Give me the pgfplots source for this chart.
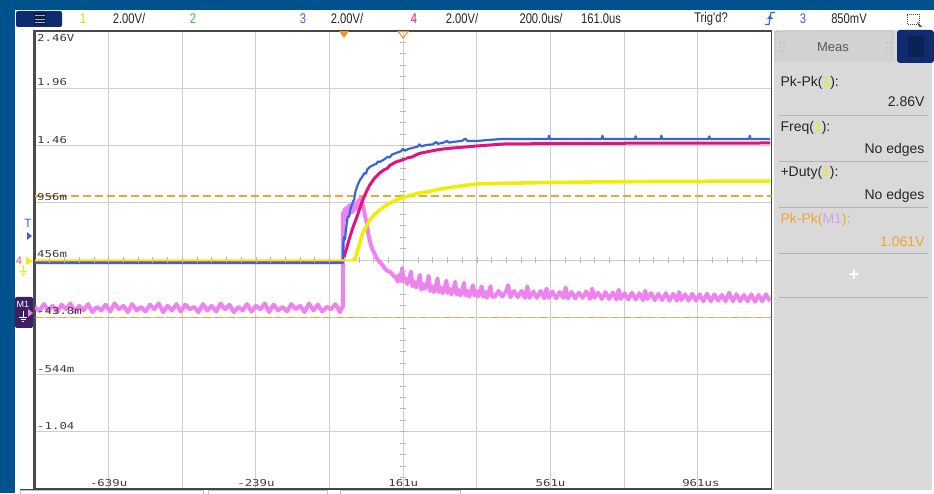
\documentclass[border=0pt]{standalone}
\usepackage{fontspec}
\setmainfont{Liberation Sans}
\newfontfamily\scopefont[FakeStretch=0.8]{Liberation Sans}
\newfontfamily\gridfont[FakeStretch=1.3]{DejaVu Sans Mono}
\usepackage{pgfplots}
\pgfplotsset{compat=1.18}
\definecolor{frameblue}{RGB}{0,82,140}
\definecolor{panelgray}{RGB}{217,217,217}
\definecolor{tabgray}{RGB}{210,210,210}
\definecolor{gridgray}{RGB}{205,205,205}
\definecolor{btnblue}{RGB}{16,44,112}
\definecolor{chone}{RGB}{238,238,0}
\definecolor{chtwo}{RGB}{60,190,60}
\definecolor{chthree}{RGB}{55,100,225}
\definecolor{chfour}{RGB}{225,20,125}
\definecolor{mone}{RGB}{238,130,238}
\definecolor{mlabel}{RGB}{210,160,240}
\definecolor{cursororange}{RGB}{240,165,50}
\definecolor{trigorange}{RGB}{240,150,30}
\definecolor{mbox}{RGB}{60,32,96}
\definecolor{labgray}{RGB}{60,60,60}
\begin{document}
\begin{tikzpicture}[x=1pt,y=1pt]
\path[use as bounding box] (0,0) rectangle (934,493);
% frame and backgrounds
\fill[frameblue] (0,0) rectangle (934,493);
\fill[white] (15,0) rectangle (934,483);
\fill[panelgray] (774,3) rectangle (932,463);
% bottom strip boxes
\draw[gray!50] (20,-1) rectangle (203,2.5);
\draw[gray!50] (208,-1) rectangle (327,2.5);
\draw[gray!50] (340,-1) rectangle (460,2.5);

\begin{axis}[
  at={(35pt,4pt)}, anchor=south west,
  width=736.5pt, height=458pt, scale only axis,
  xmin=-839, xmax=1161, ymin=-1.54, ymax=2.46,
  xtick={-639,-439,-239,-39,161,361,561,761,961},
  ytick={-1.04,-0.54,-0.04,0.46,0.96,1.46,1.96},
  xticklabels={}, yticklabels={},
  major tick length=0pt,
  grid=major,
  major grid style={draw=gridgray, line width=1pt},
  axis line style={draw=black!72, line width=1.5pt},
  clip=true,
]
% measurement cursors
\draw[cursororange, line width=1.5pt, dash pattern=on 8pt off 4pt] (axis cs:-839,1.02) -- (axis cs:1161,1.02);
\draw[cursororange, line width=1.5pt, dash pattern=on 8pt off 4pt] (axis cs:-839,-0.04) -- (axis cs:1161,-0.04);

% M1 (math) trace
\addplot[mone, line width=4pt, line join=round] coordinates {
(-839,0.05) (-827,0.015) (-815,0.075) (-803,0.02) (-791,0.06) (-779,0.005) (-767,0.07) (-755,0.03)
(-743,0.08) (-731,0.01) (-719,0.06) (-707,0.02) (-695,0.075) (-683,0.005) (-671,0.05) (-659,0.02)
(-647,0.07) (-635,0.01) (-623,0.08) (-611,0.03) (-599,0.06) (-587,0.005) (-575,0.075) (-563,0.02)
(-551,0.05) (-539,0.01) (-527,0.07) (-515,0.03) (-503,0.08) (-491,0.005) (-479,0.06) (-467,0.02)
(-455,0.075) (-443,0.01) (-431,0.07) (-419,0.03) (-407,0.05) (-395,0.005) (-383,0.075) (-371,0.02)
(-359,0.06) (-347,0.01) (-335,0.08) (-323,0.03) (-311,0.07) (-299,0.005) (-287,0.05) (-275,0.02)
(-263,0.075) (-251,0.01) (-239,0.06) (-227,0.03) (-215,0.08) (-203,0.005) (-191,0.07) (-179,0.02)
(-167,0.05) (-155,0.01) (-143,0.075) (-131,0.03) (-119,0.06) (-107,0.005) (-95,0.08) (-83,0.02)
(-71,0.07) (-59,0.01) (-47,0.05) (-35,0.03) (-23,0.075) (-11,0.005) (-4,0.05) (-3,0.05)
(-2,0.88) (1,0.80) (3,0.91) (6,0.85) (9,0.92) (12,0.86) (15,0.94) (18,0.87) (21,0.93) (24,0.88)
(27,0.95) (30,0.90) (33,0.96) (36,0.91) (39,0.98) (42,0.95) (45,1.00) (48,0.97) (51,0.94)
(55,0.88) (59,0.82) (62,0.78) (66,0.69) (70,0.63) (74,0.58) (78,0.55) (84,0.51) (90,0.47)
(97,0.44) (104,0.42) (110,0.39) (116,0.37) (122,0.36) (128,0.35) (135,0.32) (141,0.31)
(146,0.27) (150,0.33) (154,0.28) (158,0.39) (162,0.27) (167,0.30) (172,0.25) (177,0.29)
(182,0.36) (186,0.23) (191,0.27) (196,0.22) (201,0.26) (206,0.33) (210,0.20) (215,0.25)
(220,0.21) (225,0.24) (230,0.32) (234,0.19) (239,0.23) (244,0.18) (249,0.22) (254,0.30)
(258,0.18) (263,0.22) (268,0.17) (273,0.21) (278,0.28) (282,0.17) (287,0.21) (292,0.16)
(297,0.20) (302,0.27) (306,0.16) (311,0.20) (316,0.15) (321,0.19) (326,0.26) (330,0.15)
(335,0.19) (340,0.14) (345,0.18) (350,0.24) (354,0.15) (359,0.19) (364,0.14) (369,0.18)
(374,0.23) (378,0.14) (383,0.18) (388,0.13) (393,0.18) (398,0.23) (402,0.14)
(410,0.14) (420,0.19) (430,0.14) (440,0.185) (446,0.24) (452,0.135) (462,0.19) (472,0.135)
(482,0.19) (492,0.13) (498,0.23) (504,0.13) (514,0.185) (524,0.13) (534,0.19) (544,0.125)
(550,0.21) (556,0.13) (566,0.185) (576,0.125) (586,0.18) (596,0.13) (602,0.22) (608,0.125)
(618,0.18) (628,0.125) (638,0.175) (648,0.13) (658,0.185) (668,0.12) (674,0.21) (680,0.13)
(690,0.175) (700,0.12) (710,0.18) (720,0.12) (730,0.175) (740,0.115) (746,0.20) (752,0.12)
(762,0.17) (772,0.115) (782,0.175) (792,0.115) (802,0.17) (812,0.11) (818,0.19) (824,0.12)
(834,0.17) (844,0.11) (854,0.165) (864,0.11) (874,0.17) (884,0.105) (894,0.165) (904,0.105)
(910,0.18) (916,0.11) (926,0.16) (936,0.105) (946,0.165) (956,0.105) (966,0.16) (976,0.10)
(986,0.165) (996,0.10) (1006,0.16) (1016,0.105) (1026,0.155) (1036,0.10) (1046,0.175) (1056,0.10)
(1066,0.16) (1076,0.10) (1086,0.155) (1096,0.10) (1106,0.16) (1116,0.095) (1126,0.155)
(1136,0.10) (1146,0.16) (1157,0.10)
};

% channel 4 (magenta)
\addplot[chfour, line width=3pt, line join=round] coordinates {
(-839,0.442) (-3,0.442) (0,0.486) (8,0.57) (16,0.661) (25,0.75) (35,0.835) (43,0.91) (51,0.984)
(60,1.05) (70,1.115) (82,1.17) (97,1.220) (110,1.25) (118,1.26) (124,1.285) (141,1.316)
(160,1.335) (170,1.35) (185,1.360) (204,1.39) (223,1.403) (250,1.42) (270,1.43) (295,1.438)
(330,1.447) (361,1.456) (400,1.465) (431,1.473) (600,1.478) (800,1.48) (1157,1.482)
};

% channel 3 (blue)
\addplot[chthree, line width=2.2pt, line join=round] coordinates {
(-839,0.434) (-3,0.434) (-2,0.60) (0,0.661) (3,0.64) (5,0.72) (10,0.835) (14,0.84) (17,0.90)
(24,0.967) (28,0.99) (30,1.04) (35,1.097) (42,1.15) (49,1.185) (56,1.22) (60,1.215) (63,1.25)
(70,1.272) (80,1.29) (88,1.30) (92,1.32) (97,1.316) (110,1.34) (118,1.36) (124,1.355) (130,1.38)
(141,1.394) (155,1.41) (160,1.43) (166,1.415) (175,1.43) (185,1.438) (200,1.45) (205,1.47)
(210,1.452) (223,1.464) (241,1.47) (250,1.49) (255,1.475) (270,1.485) (280,1.50) (285,1.485)
(295,1.491) (320,1.50) (330,1.52) (335,1.50) (361,1.499) (380,1.505) (400,1.51) (420,1.515)
(431,1.517) (555,1.517) (557,1.545) (559,1.517) (700,1.517) (702,1.545) (704,1.517)
(790,1.517) (792,1.54) (794,1.517) (860,1.517) (862,1.545) (864,1.517) (990,1.517) (992,1.54)
(994,1.517) (1100,1.517) (1102,1.545) (1104,1.517) (1157,1.517)
};

% channel 1 (yellow)
\addplot[chone, line width=2pt] coordinates {
(-839,0.456) (24,0.456) (30,0.47)
};
\addplot[chone, line width=3.5pt, line join=round] coordinates {
(24,0.456) (30,0.47) (35,0.521) (43,0.61) (51,0.696) (62,0.76) (70,0.809) (82,0.855) (97,0.897)
(118,0.945) (141,0.984) (160,1.005) (185,1.028) (204,1.045) (223,1.054) (260,1.078) (295,1.097)
(330,1.112) (361,1.124) (420,1.129) (478,1.132) (560,1.137) (660,1.141) (850,1.146) (1157,1.150)
};

% grid labels
\begin{scope}[font=\gridfont\fontsize{9.5}{10}\selectfont, text=labgray, inner sep=0pt]
\node[anchor=north west] at ([xshift=2pt,yshift=-3pt]axis cs:-839,2.46) {2.46V};
\node[anchor=south west] at ([xshift=2pt,yshift=2pt]axis cs:-839,1.96) {1.96};
\node[anchor=south west] at ([xshift=2pt,yshift=2pt]axis cs:-839,1.46) {1.46};
\node[anchor=south west] at ([xshift=2pt,yshift=2pt]axis cs:-839,0.96) {956m};
\node[anchor=south west] at ([xshift=2pt,yshift=2pt]axis cs:-839,0.46) {456m};
\node[anchor=south west] at ([xshift=2pt,yshift=2pt]axis cs:-839,-0.04) {-43.8m};
\node[anchor=south west] at ([xshift=2pt,yshift=2pt]axis cs:-839,-0.54) {-544m};
\node[anchor=south west] at ([xshift=2pt,yshift=2pt]axis cs:-839,-1.04) {-1.04};
\node[anchor=south] at ([yshift=2pt]axis cs:-639,-1.54) {-639u};
\node[anchor=south] at ([yshift=2pt]axis cs:-239,-1.54) {-239u};
\node[anchor=south] at ([yshift=2pt]axis cs:161,-1.54) {161u};
\node[anchor=south] at ([yshift=2pt]axis cs:561,-1.54) {561u};
\node[anchor=south] at ([yshift=2pt,xshift=3pt]axis cs:961,-1.54) {961us};
\end{scope}
% trigger / delay markers
\fill[trigorange] ([xshift=-5pt]axis cs:0,2.46) -- ([xshift=5pt]axis cs:0,2.46) -- ([yshift=-7pt]axis cs:0,2.46) -- cycle;
\draw[trigorange, line width=1pt] ([xshift=-5pt,yshift=-0.5pt]axis cs:161,2.46) -- ([xshift=5pt,yshift=-0.5pt]axis cs:161,2.46) -- ([yshift=-7pt]axis cs:161,2.46) -- cycle;
\end{axis}

% center-line minor ticks
\foreach \k in {1,...,39} \draw[gray!55, line width=0.8pt] (400,{4+\k*11.45}) -- (406,{4+\k*11.45});
\foreach \k in {1,...,49} \draw[gray!55, line width=0.8pt] ({35+\k*14.73},230) -- ({35+\k*14.73},236);
% thick left border
\draw[black!70, line width=2.5pt] (34,4) -- (34,463);
\draw[black!75, line width=1.2pt] (20,3.5) -- (772,3.5);

% top-left button
\fill[btnblue, rounded corners=2pt] (16,466) rectangle (62,482);
\fill[btnblue!70!black] (34,468) rectangle (46,480);
\foreach \yy in {470.5,474,477.5} \draw[gray!60] (35,\yy) -- (45,\yy);

% top bar text
\begin{scope}[font=\scopefont\fontsize{14}{15}\selectfont, text=black!85]
\node[text=chone!90!black] at (83,474.5) {1};
\node at (129,474.5) {2.00V/};
\node[text=chtwo] at (193,474.5) {2};
\node[text=chthree] at (303,474.5) {3};
\node at (347,474.5) {2.00V/};
\node[text=chfour] at (414,474.5) {4};
\node at (462,474.5) {2.00V/};
\node at (541,474.5) {200.0us/};
\node at (601,474.5) {161.0us};
\node at (711,474.5) {Trig'd?};
\node[text=chthree] at (803,474.5) {3};
\node at (849,474.5) {850mV};
\end{scope}
% trigger edge icon
\draw[chthree, line width=1.2pt] (765,468.5) -- (769,468.5) -- (771,480.5) -- (775,480.5);
\fill[chthree] (767,474) -- (773,474) -- (770,478) -- cycle;
% zoom icon
\draw[black!70, dash pattern=on 1pt off 1pt] (907,469) rectangle (919,479);
\fill[black!80] (917,471) -- (922,466) -- (919,466.5) -- cycle;

% left channel markers
\node[text=chthree, font=\fontsize{12}{12}\selectfont] at (28,270) {T};
\fill[chthree] (27,261) -- (32,257) -- (27,253) -- cycle;
\node[text=chfour!70!chone, font=\fontsize{11}{11}\selectfont] at (19,232) {4};
\fill[chone] (26,236) -- (33,232) -- (26,228) -- cycle;
\draw[chone, line width=0.8pt] (23,228) -- (23,222) (19,222) -- (27,222) (20.5,220) -- (25.5,220) (22,218) -- (24,218);
\fill[mbox, rounded corners=2pt] (15,165) rectangle (33,196);
\node[text=white, font=\fontsize{9}{9}\selectfont] at (23,189) {M1};
\draw[white, line width=0.8pt] (23,182) -- (23,176) (19,176) -- (27,176) (20.5,174) -- (25.5,174) (22,172) -- (24,172);
\fill[mone] (28,184) -- (33,180) -- (28,176) -- cycle;

% Meas panel
\fill[tabgray, rounded corners=3pt] (775,431) rectangle (893,462);
\draw[gray!70, rounded corners=3pt] (775,431) -- (775,462) -- (893,462) -- (893,431);
\fill[btnblue, rounded corners=3pt] (897,430) rectangle (934,463);
\fill[btnblue!75!black] (908,436) rectangle (924,457);
\foreach \dx in {780,784,887,891} \foreach \dy in {442,446,450} \fill[gray!70] (\dx,\dy) circle (0.6);
\node[text=black!65, font=\fontsize{13}{14}\selectfont] at (833,446) {Meas};
\begin{scope}[font=\fontsize{14}{15}\selectfont, text=black!85]
\node[anchor=west] at (777,410) {Pk-Pk(\textcolor{chone}{1}):};
\node[anchor=east] at (928,391) {2.86V};
\node[anchor=west] at (777,365) {Freq(\textcolor{chone}{1}):};
\node[anchor=east] at (928,343) {No edges};
\node[anchor=west] at (777,320) {+Duty(\textcolor{chone}{1}):};
\node[anchor=east] at (928,297) {No edges};
\node[anchor=west, text=cursororange] at (777,273) {Pk-Pk(\textcolor{mlabel}{M1}):};
\node[anchor=east, text=cursororange] at (928,251) {1.061V};
\end{scope}
\foreach \yy in {378,332,286,240,196} \draw[gray!60, line width=0.8pt] (779,\yy) -- (928,\yy);
\node[text=white, font=\bfseries\fontsize{18}{18}\selectfont] at (854,218) {+};
\end{tikzpicture}
\end{document}
